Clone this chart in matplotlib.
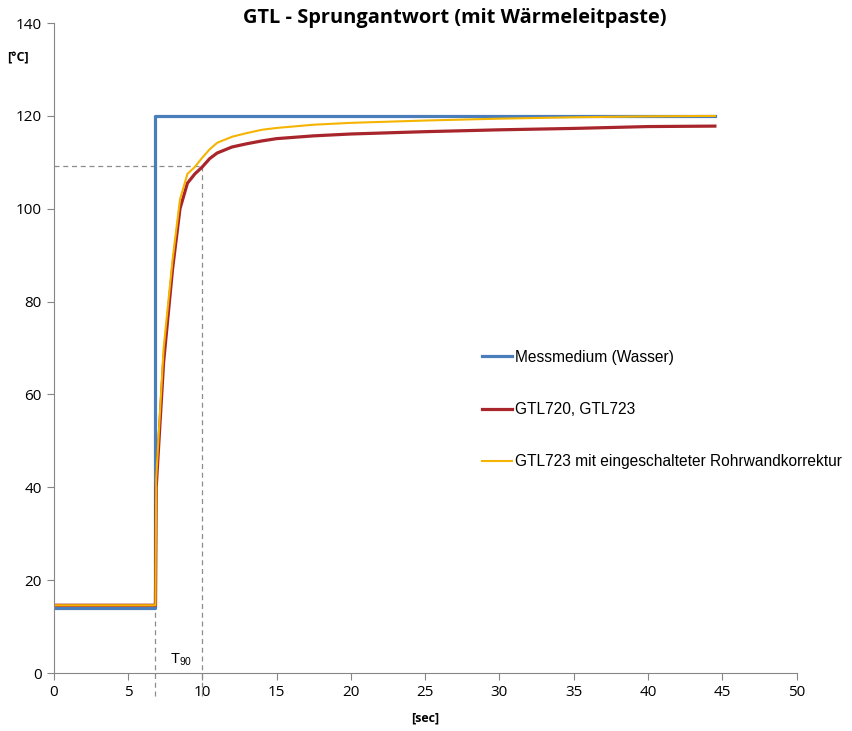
import matplotlib

matplotlib.use("Agg")
import matplotlib.pyplot as plt

# step input (water)
medium_t = [0, 6.85, 6.85, 44.5]
medium_temp = [14.0, 14.0, 120.0, 120.0]

# GTL720 / GTL723 response
red_t = [0, 6.85, 6.9, 7.4, 8.0, 8.5, 9.0, 9.5, 10.0, 10.5, 11.0, 12.0, 13.0, 14.0,
         15.0, 17.5, 20.0, 25.0, 30.0, 35.0, 40.0, 44.5]
red_temp = [14.6, 14.6, 40.0, 67.0, 87.0, 100.0, 105.5, 107.5, 109.0, 110.8, 112.0,
            113.3, 114.0, 114.6, 115.1, 115.7, 116.1, 116.6, 117.0, 117.3, 117.7, 117.8]

# GTL723 with pipe wall correction
yel_t = [0, 6.85, 6.9, 7.4, 8.0, 8.5, 9.0, 9.5, 10.0, 10.5, 11.0, 12.0, 13.0, 14.0,
         15.0, 17.5, 20.0, 25.0, 30.0, 35.0, 40.0, 44.5]
yel_temp = [14.6, 14.6, 42.0, 70.0, 89.0, 102.0, 107.5, 109.0, 111.0, 112.8, 114.2,
            115.5, 116.3, 117.0, 117.4, 118.1, 118.5, 119.0, 119.4, 119.7, 119.9, 120.0]

labels = ["Messmedium (Wasser)", "GTL720, GTL723", "GTL723 mit eingeschalteter Rohrwandkorrektur"]
t_step = 6.85
t90 = 10
temp90 = 109.2

fig = plt.figure(figsize=(8.52, 7.31), dpi=100)
ax = fig.add_axes([0.063, 0.0793, 0.872, 0.8892])

grey = "#8c8c8c"
ax.plot([0, t90], [temp90, temp90], color=grey, lw=0.9, ls=(0, (4, 3)))
ax.plot([t90, t90], [-5, temp90], color=grey, lw=0.9, ls=(0, (4, 3)), clip_on=False)
ax.plot([t_step, t_step], [-5, 14], color=grey, lw=0.9, ls=(0, (4, 3)), clip_on=False)

ax.plot(medium_t, medium_temp, color="#4A7EBB", lw=2.3, label=labels[0])
ax.plot(red_t, red_temp, color="#A8262B", lw=2.3, label=labels[1])
ax.plot(yel_t, yel_temp, color="#F5B400", lw=1.5, label=labels[2])

ax.set_xlim(0, 50)
ax.set_ylim(0, 140)
ax.set_xticks(range(0, 51, 5))
ax.set_yticks(range(0, 141, 20))
for side in ("top", "right"):
    ax.spines[side].set_visible(False)
for side in ("left", "bottom"):
    ax.spines[side].set_color("#868686")
ax.tick_params(axis="both", colors="#868686", labelcolor="black", labelsize=11,
               direction="out", length=5)
for lab in ax.get_xticklabels() + ax.get_yticklabels():
    lab.set_family("Open Sans")

ax.text(7.85, 2.2, r"T$_{\mathregular{90}}$", fontsize=10.5, family="Liberation Sans")

fig.text(0.534, 0.975, "GTL - Sprungantwort (mit Wärmeleitpaste)", ha="center", va="center",
         fontsize=14.4, fontweight="bold", family="Open Sans")
fig.text(0.021, 0.92, "[°C]", ha="center", va="center", fontsize=9, fontweight="bold",
         family="Open Sans")
fig.text(0.499, 0.018, "[sec]", ha="center", va="center", fontsize=9, fontweight="bold",
         family="Open Sans")

ax.legend(loc="upper left", bbox_to_anchor=(0.568, 0.507), frameon=False,
          prop={"family": "Liberation Sans", "size": 11.2}, handlelength=1.95,
          handletextpad=0.15, labelspacing=2.4, borderaxespad=0)

fig.savefig("out.png", dpi=100)
